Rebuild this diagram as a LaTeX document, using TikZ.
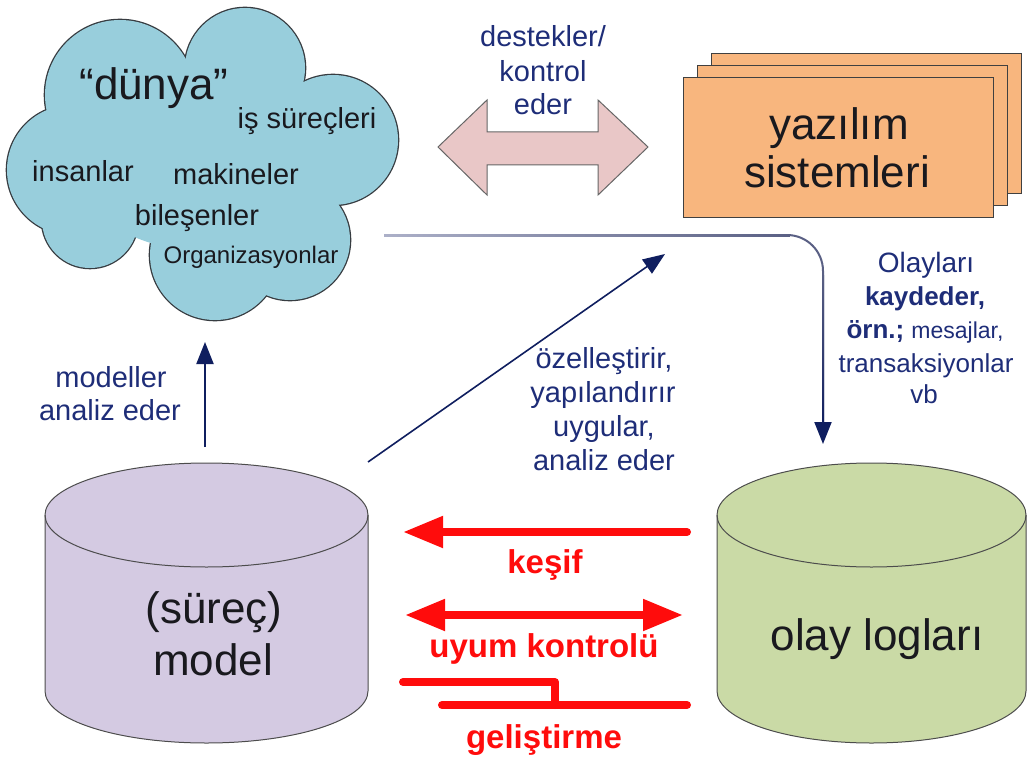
\documentclass[tikz,border=0pt]{standalone}
\usepackage{fontspec}
\setmainfont{Liberation Sans}
\usetikzlibrary{arrows.meta}

\definecolor{cloudfill}{RGB}{152,206,220}
\definecolor{cloudedge}{RGB}{55,60,65}
\definecolor{swfill}{RGB}{248,182,126}
\definecolor{modelfill}{RGB}{212,202,226}
\definecolor{logfill}{RGB}{202,218,166}
\definecolor{pinkfill}{RGB}{233,199,199}
\definecolor{navytext}{RGB}{30,45,120}
\definecolor{navyarrow}{RGB}{15,30,95}
\definecolor{inkdark}{RGB}{25,25,30}
\definecolor{hotred}{RGB}{255,12,12}
\definecolor{lineLight}{RGB}{172,176,200}
\definecolor{lineMid}{RGB}{90,96,132}

\begin{document}
\begin{tikzpicture}[x=1pt,y=-1pt,
  txt/.style={inner sep=0pt, anchor=base},
  bigword/.style={txt, font=\fontsize{44}{50}\selectfont, text=inkdark},
  cloudword/.style={txt, font=\fontsize{29}{34}\selectfont, text=inkdark},
  bluelabel/.style={txt, font=\fontsize{29}{34}\selectfont, text=navytext},
  loglabel/.style={txt, font=\fontsize{26}{32}\selectfont, text=navytext},
  redlabel/.style={txt, font=\fontsize{33}{38}\selectfont\bfseries, text=hotred},
  swbox/.style={draw=black!75, line width=1pt, fill=swfill, minimum width=310pt,
                minimum height=139pt, inner sep=0pt},
  cylline/.style={draw=black!70, line width=1pt},
  navytip/.style={-{Triangle[length=22pt,width=17pt,color=navyarrow]}},
  thinarrow/.style={draw=navyarrow, line width=1.8pt, navytip},
  redline/.style={draw=hotred, line width=8pt, line cap=round},
]
\useasboundingbox (0,0) rectangle (1027,762);

% ---------- the "world" cloud: outline of the puffs, then their fill on top
\def\puffs{72/170/65, 120/95/75, 245/68/60, 333/140/65, 290/240/60, 215/255/65, 90/220/48}
\foreach \cx/\cy/\r in \puffs
  \draw[cloudedge, line width=2.6pt] (\cx,\cy) circle[radius=\r pt];
\foreach \cx/\cy/\r in \puffs
  \fill[cloudfill] (\cx,\cy) circle[radius=\r pt];
\fill[cloudfill] (200,170) ellipse[x radius=120pt, y radius=80pt];
\coordinate (world) at (200,165);

\node[bigword]  (dunya) at (154,100) {“dünya”};
\node[cloudword] (is)    at (307,129) {iş süreçleri};
\node[cloudword] (insan) at (83,182)  {insanlar};
\node[cloudword] (makine) at (236,185) {makineler};
\node[cloudword] (bilesen) at (197,225) {bileşenler};
\node[txt, font=\fontsize{24}{28}\selectfont, text=inkdark] (org) at (251,263) {Organizasyonlar};

% ---------- supports / controls double arrow
\filldraw[fill=pinkfill, draw=black!60, line width=1pt]
  (438,147) -- (487,100) -- (487,132) -- (598,132) -- (598,100) -- (648,147)
  -- (598,195) -- (598,165) -- (487,165) -- (487,195) -- cycle;
\coordinate (support) at (543,147);
\node[bluelabel] (d1) at (543,47)  {destekler/};
\node[bluelabel] (d2) at (543,82)  {kontrol};
\node[bluelabel] (d3) at (543,115) {eder};

% ---------- stacked software systems
\node[swbox] (sw3) at (866,123.5) {};
\node[swbox] (sw2) at (852,135.5) {};
\node[swbox] (sw)  at (838,147.5) {};
\node[bigword] (sw1) at (839,140) {yazılım};
\node[bigword] (sw2t) at (837,187) {sistemleri};

% ---------- (process) model cylinder
\filldraw[fill=modelfill, cylline]
  (45,515) -- (45,691) arc[start angle=180, end angle=360, x radius=161.5pt, y radius=52pt]
  -- (368,515) arc[start angle=0, end angle=180, x radius=161.5pt, y radius=52pt] -- cycle;
\draw[cylline] (45,515) arc[start angle=180, end angle=360, x radius=161.5pt, y radius=52pt];
\node[bigword] (m1) at (214,623) {(süreç)};
\node[bigword] (m2) at (213,675) {model};

% ---------- event log cylinder
\filldraw[fill=logfill, cylline]
  (717,515) -- (717,691) arc[start angle=180, end angle=360, x radius=154.5pt, y radius=52pt]
  -- (1026,515) arc[start angle=0, end angle=180, x radius=154.5pt, y radius=52pt] -- cycle;
\draw[cylline] (717,515) arc[start angle=180, end angle=360, x radius=154.5pt, y radius=52pt];
\node[bigword] (l1) at (877,650) {olay logları};

% ---------- model analyses the world
\coordinate (upFrom) at (205,447);
\coordinate (upTo)   at (205,342);
\draw[thinarrow, line width=2pt] (upFrom) -- (upTo);
\node[bluelabel] (ma1) at (111,387) {modeller};
\node[bluelabel] (ma2) at (110,420) {analiz eder};

% ---------- model configures the software
\coordinate (diagFrom) at (368,462);
\coordinate (diagTo)   at (665,254);
\draw[thinarrow, line width=1.6pt] (diagFrom) -- (diagTo);
\node[bluelabel] (o1) at (604,368) {özelleştirir,};
\node[bluelabel] (o2) at (603,402) {yapılandırır};
\node[bluelabel] (o3) at (604,436) {uygular,};
\node[bluelabel] (o4) at (604,470) {analiz eder};

% ---------- the world is recorded in event logs
\coordinate (tapW)   at (384,235);
\coordinate (turn)   at (823,235);
\coordinate (logsIn) at (823,444);
\draw[draw=lineMid, line width=2pt, rounded corners=36pt, navytip] (tapW) -- (turn) -- (logsIn);
\shade[left color=lineLight, right color=lineMid] (384,234) rectangle (790,236);
\shade[top color=lineMid, bottom color=navyarrow] (822,275) rectangle (824,424);
\node[txt, font=\fontsize{28}{32}\selectfont, text=navytext] (e1) at (926,272) {Olayları};
\node[loglabel] (e2) at (925,305) {\bfseries kaydeder,};
\node[loglabel] (e3) at (925,338) {\bfseries örn.; {\mdseries\fontsize{23}{28}\selectfont mesajlar,}};
\node[loglabel] (e4) at (926,372) {transaksiyonlar};
\node[loglabel] (e5) at (924,403) {vb};

% ---------- discovery, conformance, enhancement
\coordinate (kR) at (687,532);
\coordinate (kL) at (403,532);
\draw[redline, -{Triangle[length=40pt,width=30pt]}] (kR) -- (kL);
\node[redlabel] (kesif) at (545,573) {keşif};

\coordinate (uL) at (405,615);
\coordinate (uR) at (683,615);
\draw[redline, {Triangle[length=40pt,width=30pt]}-{Triangle[length=40pt,width=30pt]}] (uL) -- (uR);
\node[redlabel] (uyum) at (544,657) {uyum kontrolü};

\coordinate (g1) at (403,682);
\coordinate (g2) at (555,682);
\coordinate (g3) at (555,705);
\coordinate (g4) at (442,705);
\coordinate (g5) at (687,705);
\draw[redline, line join=round] (g1) -- (g2) -- (g3);
\draw[redline] (g4) -- (g5);
\node[redlabel] (gelis) at (544,748) {geliştirme};
\end{tikzpicture}
\end{document}
